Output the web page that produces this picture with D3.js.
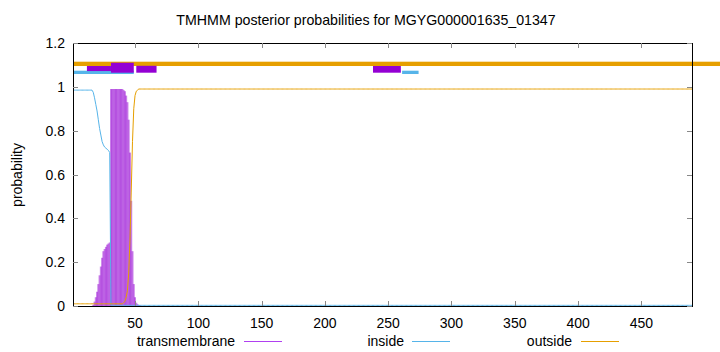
<!DOCTYPE html>
<html><head><meta charset="utf-8">
<script src="https://cdn.jsdelivr.net/npm/d3@7"></script>
<style>
body{margin:0;background:#fff}
svg{display:block}
text{font-family:"Liberation Sans",Arial,Helvetica,sans-serif;fill:#000}
</style>
</head><body>
<svg id="chart" width="720" height="352"></svg>
<script>
// ---------------- data ----------------
const chartTitle = "TMHMM posterior probabilities for MGYG000001635_01347";
const yLabel = "probability";
const seqLength = 490;
const xTicks = [50, 100, 150, 200, 250, 300, 350, 400, 450];
const yTicks = [0, 0.2, 0.4, 0.6, 0.8, 1, 1.2];
const yTickLabels = ["0", "0.2", "0.4", "0.6", "0.8", "1", "1.2"];
const seriesNames = ["transmembrane", "inside", "outside"];

// posterior probabilities, residues 1..55
const tmHead = [
  0,0,0,0,0,0,0,0,0,0,0,0,0,0,0,0,
  0.005,0.02,0.04,0.065,0.1,0.14,0.18,0.22,0.25,0.26,0.27,0.28,0.285,0.29,
  0.99,0.99,0.99,0.99,0.99,0.99,0.99,0.99,0.99,0.99,
  0.985,0.98,0.96,0.93,0.85,0.7,0.48,0.25,0.1,0.04,0.015,0.008,0.004,0.002,0.001
];
const insideHead = [
  0.985,0.985,0.985,0.985,0.985,0.985,0.985,0.985,0.985,0.985,0.985,0.985,0.985,0.985,0.985,0.985,
  0.975,0.95,0.92,0.89,0.85,0.81,0.78,0.75,0.735,0.725,0.72,0.715,0.71,0.70,
  0.003,0.003,0.003,0.003,0.003,0.003,0.003,0.003,0.003,0.003,
  0.003,0.003,0.003,0.003,0.003,0.003,0.003,0.003,0.003,0.003,0.003,0.003,0.003,0.003,0.003
];
const outsideHead = [
  0.01,0.01,0.01,0.01,0.01,0.01,0.01,0.01,0.01,0.01,0.01,0.01,0.01,0.01,0.01,0.01,
  0.01,0.01,0.01,0.01,0.01,0.01,0.01,0.01,0.01,0.01,0.01,0.01,0.01,0.01,
  0.01,0.01,0.01,0.01,0.01,0.01,0.01,0.01,0.01,0.01,
  0.015,0.02,0.04,0.07,0.15,0.3,0.52,0.75,0.9,0.96,0.98,0.985,0.99,0.99,0.99
];
// residues 56..490 are flat in the picture
const tmTail = 0;
const insideTail = 0.003;
const outsideTail = 0.99;

// predicted topology bars at the top (residue ranges)
const outsideBars = [[1, 515]];
const insideBars = [[1, 49], [261, 274]];
const tmBoxes = [[12, 31], [31, 49], [51, 67], [238, 260]];
const tmBoxLow = [1.072, 1.0645, 1.0645, 1.0645];
const tmBoxHigh = [1.095, 1.110, 1.096, 1.095];

// ---------------- build ----------------
function fullSeries(head, tail) {
  const out = head.slice();
  while (out.length < seqLength) out.push(tail);
  return out.map((v, i) => ({pos: i + 1, v}));
}
const tm = fullSeries(tmHead, tmTail);
const inside = fullSeries(insideHead, insideTail);
const outside = fullSeries(outsideHead, outsideTail);

const colors = {tm: "#9400d3", inside: "#56b4e9", outside: "#e69f00"};

const svg = d3.select("#chart");
const L = 73, R = 692, T = 43, B = 306;
const x = d3.scaleLinear().domain([1, seqLength]).range([L, R]);
const y = d3.scaleLinear().domain([0, 1.2]).range([B, T]);

// title
svg.append("text").attr("x", 366).attr("y", 25).attr("text-anchor", "middle")
  .attr("font-size", 14.2).text(chartTitle);

// y label
svg.append("text").attr("transform", "translate(22,175) rotate(-90)")
  .attr("text-anchor", "middle").attr("font-size", 14).text(yLabel);

// impulses (transmembrane)
svg.append("g").selectAll("line").data(tm.filter(d => d.v > 0)).join("line")
  .attr("x1", d => x(d.pos)).attr("x2", d => x(d.pos))
  .attr("y1", y(0)).attr("y2", d => y(d.v))
  .attr("stroke", colors.tm).attr("stroke-width", 2).attr("stroke-opacity", 0.5);

// lines
const line = d3.line().x(d => x(d.pos)).y(d => y(d.v));
svg.append("path").datum(inside).attr("d", line).attr("fill", "none")
  .attr("stroke", colors.inside).attr("stroke-width", 1);
svg.append("path").datum(outside).attr("d", line).attr("fill", "none")
  .attr("stroke", colors.outside).attr("stroke-width", 1);

// top topology bars
svg.append("g").selectAll("rect").data(outsideBars).join("rect")
  .attr("x", d => x(d[0])).attr("width", d => x(d[1]) - x(d[0]))
  .attr("y", y(1.1147)).attr("height", y(1.095) - y(1.1147))
  .attr("fill", colors.outside);
svg.append("g").selectAll("rect").data(insideBars).join("rect")
  .attr("x", d => x(d[0])).attr("width", d => x(d[1]) - x(d[0]))
  .attr("y", y(1.0736)).attr("height", y(1.0585) - y(1.0736))
  .attr("fill", colors.inside);
svg.append("g").selectAll("rect").data(tmBoxes).join("rect")
  .attr("x", d => x(d[0])).attr("width", d => x(d[1]) - x(d[0]))
  .attr("y", (d, i) => y(tmBoxHigh[i])).attr("height", (d, i) => y(tmBoxLow[i]) - y(tmBoxHigh[i]))
  .attr("fill", colors.tm);

// frame
const frame = svg.append("g");
frame.append("path")
  .attr("d", `M${L},${T}V${B}H${R}V${T}H${L}`)
  .attr("fill", "none").attr("stroke", "#000").attr("stroke-width", 1)
  .attr("shape-rendering", "crispEdges");

// y ticks (both sides, inward)
yTicks.forEach((t, i) => {
  const yy = Math.round(y(t)) + 0.5;
  frame.append("line").attr("x1", L).attr("x2", L + 5).attr("y1", yy).attr("y2", yy).attr("stroke", "#888");
  frame.append("line").attr("x1", R).attr("x2", R - 5).attr("y1", yy).attr("y2", yy).attr("stroke", "#888");
  svg.append("text").attr("x", 65).attr("y", y(t) + 5).attr("text-anchor", "end")
    .attr("font-size", 14).text(yTickLabels[i]);
});
// x ticks
xTicks.forEach(t => {
  const xx = Math.round(x(t)) + 0.5;
  frame.append("line").attr("x1", xx).attr("x2", xx).attr("y1", B).attr("y2", B - 5).attr("stroke", "#888");
  frame.append("line").attr("x1", xx).attr("x2", xx).attr("y1", T).attr("y2", T + 5).attr("stroke", "#888");
  svg.append("text").attr("x", x(t)).attr("y", 328).attr("text-anchor", "middle")
    .attr("font-size", 14).text(t);
});

// legend
const legendItems = [
  {name: seriesNames[0], color: "#b040f0", textEnd: 235, x1: 244, x2: 282},
  {name: seriesNames[1], color: colors.inside, textEnd: 404, x1: 412, x2: 450},
  {name: seriesNames[2], color: colors.outside, textEnd: 572, x1: 581, x2: 619}
];
legendItems.forEach(d => {
  svg.append("text").attr("x", d.textEnd).attr("y", 346).attr("text-anchor", "end")
    .attr("font-size", 14).text(d.name);
  svg.append("line").attr("x1", d.x1).attr("x2", d.x2).attr("y1", 341.5).attr("y2", 341.5)
    .attr("stroke", d.color).attr("stroke-width", 1);
});
</script>
</body></html>
